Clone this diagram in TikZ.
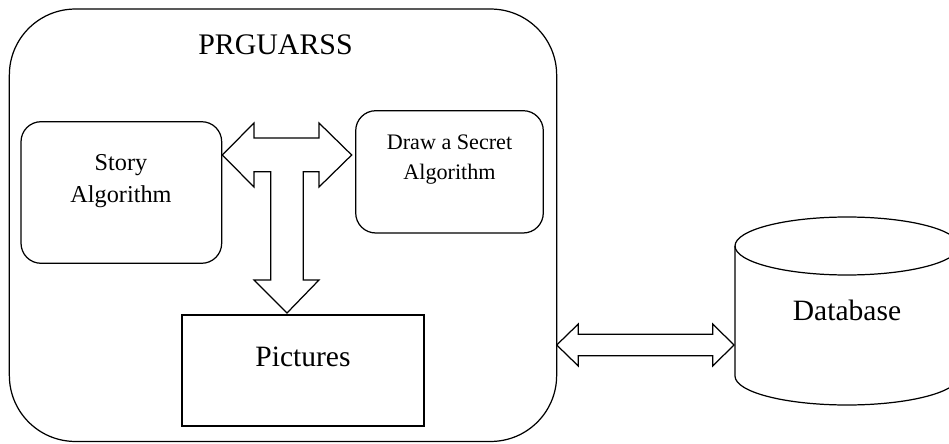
\documentclass[tikz,border=0pt]{standalone}
\usepackage{fontspec}
\setmainfont{Liberation Serif}
\tikzset{%
  base/.style = {rectangle, draw=black, line width=0.7pt, inner sep=0pt},
  systemBox/.style = {base, rounded corners=1.32cm,
      minimum width=10.948cm, minimum height=8.65cm},
  algoBox/.style = {base, rounded corners=0.4cm},
  picBox/.style = {base, minimum width=4.84cm, minimum height=2.22cm},
  caption/.style = {inner sep=0pt, align=center},
  blockArrow/.style = {draw=black, line width=0.7pt, line join=miter},
}

\begin{document}
\begin{tikzpicture}[x=0.02cm, y=0.02cm]
  \useasboundingbox (0,0) rectangle (949,443);
  % Specification of nodes (position, etc.)
  \node (prguarss)  [systemBox] at (283,217.75) {};
  \node (storyBlock) [algoBox, minimum width=4.014cm, minimum height=2.832cm]
                                                   at (121.35,250.5) {};
  \node (secretBlock) [algoBox, minimum width=3.752cm, minimum height=2.446cm]
                                                   at (449.5,271.15) {};
  \node (picturesBlock) [picBox] at (303,72.5) {};
  \node (prguarssText) [caption, anchor=base,
      font=\fontsize{17}{20}\selectfont] at (275.5,388) {PRGUARSS};
  \node (storyText) [caption, font=\fontsize{13.8}{18.3}\selectfont]
                                     at (121,261.5) {Story\\Algorithm};
  \node (secretText) [caption, font=\fontsize{12.6}{17}\selectfont]
                               at (449.5,283.1) {Draw a Secret\\Algorithm};
  \node (picturesText) [caption, anchor=base,
      font=\fontsize{16.8}{20}\selectfont] at (303,77) {Pictures};
  % database drawn as a cylinder
  \draw[line width=0.7pt] (735,197) -- (735,67)
      arc[start angle=180, end angle=360, x radius=2.24cm, y radius=0.58cm]
      -- (959,197);
  \draw[line width=0.7pt] (847,197) ellipse [x radius=2.24cm, y radius=0.58cm];
  \node (databaseText) [caption, anchor=base,
      font=\fontsize{16.8}{20}\selectfont] at (847,123) {Database};
  \coordinate (linkStart) at (556.7,98);
  \coordinate (linkEnd)   at (734,98);
  % Specification of the block arrows between the parts
  \draw[blockArrow] (storyBlock.east |- 0,288) -- (254,320) -- (254,305)
      -- (319,305) -- (319,320) -- (351.7,288) -- (319,256) -- (319,271.3)
      -- (303.3,271.3) -- (303.3,163) -- (319,163) -- (287,130)
      -- (254,163) -- (270.7,163) -- (270.7,271.3) -- (254,271.3)
      -- (254,256) -- cycle;
  \draw[blockArrow] (linkStart) -- ++(21.6,21) -- ++(0,-10.3) -- ++(134.4,0)
      -- ++(0,10.3) -- (linkEnd) -- ++(-21.3,-21) -- ++(0,10.3)
      -- ++(-134.4,0) -- ++(0,-10.3) -- cycle;
\end{tikzpicture}
\end{document}
